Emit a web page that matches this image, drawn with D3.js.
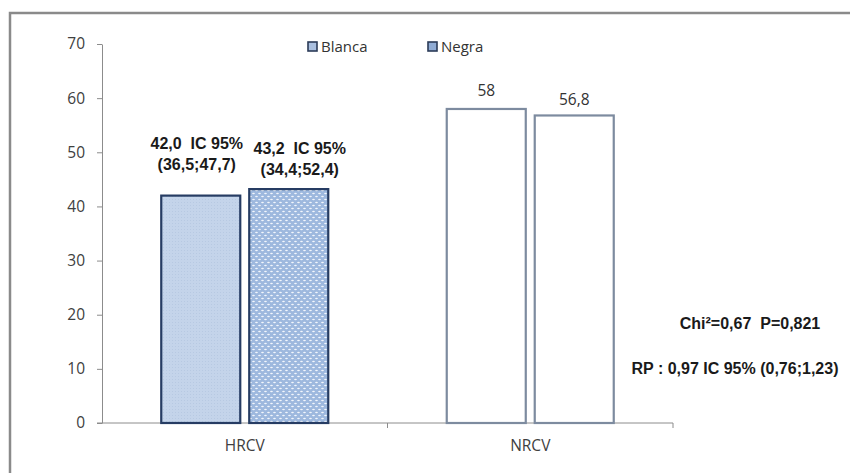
<!DOCTYPE html>
<html>
<head>
<meta charset="utf-8">
<script src="https://cdn.jsdelivr.net/npm/d3@7"></script>
<style>
  html,body{margin:0;padding:0;background:#fff;}
  svg{display:block;}
</style>
</head>
<body>
<div id="chart"></div>
<script>
(function(){
  // data
  const categories=["HRCV","NRCV"];
  const series=["Blanca","Negra"];
  const blanca=[42.0,58];
  const negra=[43.2,56.8];
  const labelsBlanca=[["42,0  IC 95%","(36,5;47,7)"],["58"]];
  const labelsNegra=[["43,2  IC 95%","(34,4;52,4)"],["56,8"]];
  const yTicks=[0,10,20,30,40,50,60,70];
  const notes=["Chi\u00b2=0,67  P=0,821","RP : 0,97 IC 95% (0,76;1,23)"];

  const W=850,H=473;
  const svg=d3.select("#chart").append("svg").attr("width",W).attr("height",H);

  // pattern fills
  const defs=svg.append("defs");
  const pb=defs.append("pattern").attr("id","pBlanca").attr("patternUnits","userSpaceOnUse")
    .attr("width",3).attr("height",3);
  pb.append("rect").attr("width",3).attr("height",3).attr("fill","#c4d4ea");
  pb.append("rect").attr("x",1).attr("y",1).attr("width",1).attr("height",1).attr("fill","#b7c9e2");
  const pn=defs.append("pattern").attr("id","pNegra").attr("patternUnits","userSpaceOnUse")
    .attr("width",6).attr("height",6);
  pn.append("rect").attr("width",6).attr("height",6).attr("fill","#9db8de");
  pn.append("ellipse").attr("cx",1.5).attr("cy",1.5).attr("rx",1.4).attr("ry",0.8).attr("fill","#f2f6fc");
  pn.append("ellipse").attr("cx",4.5).attr("cy",4.5).attr("rx",1.4).attr("ry",0.8).attr("fill","#f2f6fc");

  // outer frame
  svg.append("rect").attr("x",10).attr("y",13).attr("width",W+20).attr("height",H+20)
    .attr("fill","none").attr("stroke","#8a8a8a").attr("stroke-width",2.5);

  const x0=d3.scaleBand().domain(categories).range([102,673]).paddingInner(0).paddingOuter(0);
  const groupW=167;
  const x1=d3.scaleBand().domain(series).range([0,groupW]).paddingInner(0.102);
  const y=d3.scaleLinear().domain([0,70]).range([423,44]);

  // y axis
  const ya=svg.append("g").attr("transform","translate(102,0)")
    .call(d3.axisLeft(y).tickValues(yTicks).tickSize(5).tickSizeOuter(0).tickPadding(12));
  ya.select(".domain").attr("stroke","#8c8c8c");
  ya.selectAll(".tick line").attr("stroke","#8c8c8c");
  ya.selectAll("text").attr("font-family","'Open Sans',sans-serif").attr("font-size",15.5)
    .attr("fill","#404040");

  // x axis with ticks on band edges
  const xa=svg.append("g");
  xa.append("line").attr("x1",x0.range()[0]-5).attr("x2",x0.range()[1]).attr("y1",y(0)).attr("y2",y(0))
    .attr("stroke","#8c8c8c");
  const edges=categories.map(c=>x0(c)+x0.bandwidth()).slice();
  xa.selectAll("line.tk").data(edges).join("line").attr("class","tk")
    .attr("x1",d=>d).attr("x2",d=>d).attr("y1",y(0)).attr("y2",y(0)+5).attr("stroke","#8c8c8c");
  xa.selectAll("text").data(categories).join("text")
    .attr("x",d=>x0(d)+x0.bandwidth()/2).attr("y",y(0)+28).attr("text-anchor","middle")
    .attr("font-family","'Open Sans',sans-serif").attr("font-size",15.5).attr("fill","#404040")
    .text(d=>d);

  // bars
  const rows=categories.map((c,i)=>({c,i,vals:[blanca[i],negra[i]],labs:[labelsBlanca[i],labelsNegra[i]]}));
  const off=(x0.bandwidth()-groupW)/2;
  const fills=[["url(#pBlanca)","url(#pNegra)"],["#ffffff","#ffffff"]];
  const strokes=[["#263c63","#263c63"],["#7d8b9f","#7d8b9f"]];
  rows.forEach(r=>{
    series.forEach((s,j)=>{
      const v=r.vals[j];
      svg.append("rect").attr("x",x0(r.c)+off+x1(s)).attr("y",y(v))
        .attr("width",x1.bandwidth()).attr("height",y(0)-y(v))
        .attr("fill",fills[r.i][j]).attr("stroke",strokes[r.i][j]).attr("stroke-width",2.2);
    });
  });

  // value labels
  const lab=svg.append("g");
  rows.forEach(r=>{
    series.forEach((s,j)=>{
      const cx=x0(r.c)+off+x1(s)+x1.bandwidth()/2;
      const lines=r.labs[j];
      if(lines.length>1){
        const dx=j===0?-4:11;
        const base=j===0?149:154;
        lines.forEach((t,k)=>{
          lab.append("text").attr("x",cx+dx).attr("y",base+k*21).attr("text-anchor","middle")
            .attr("font-family","'Liberation Sans',Arial,sans-serif").attr("font-weight","bold")
            .attr("font-size",16).attr("fill","#1a1a1a").style("white-space","pre").text(t);
        });
      }else{
        lab.append("text").attr("x",cx).attr("y",y(r.vals[j])-(j===0?13:10)).attr("text-anchor","middle")
          .attr("font-family","'Open Sans',sans-serif").attr("font-size",15.5).attr("fill","#333")
          .text(lines[0]);
      }
    });
  });

  // legend
  const lg=svg.append("g");
  const lx=[308,428];
  series.forEach((s,j)=>{
    lg.append("rect").attr("x",lx[j]).attr("y",42).attr("width",9).attr("height",9)
      .attr("fill",j===0?"#a9bfdf":"#8fabd4").attr("stroke","#2b3b58").attr("stroke-width",1.6);
    lg.append("text").attr("x",lx[j]+13).attr("y",52)
      .attr("font-family","'Open Sans',sans-serif").attr("font-size",15).attr("fill","#333").text(s);
  });

  // statistics notes
  svg.append("text").attr("x",750).attr("y",329).attr("text-anchor","middle")
    .attr("font-family","'Liberation Sans',Arial,sans-serif").attr("font-weight","bold")
    .attr("font-size",16).attr("fill","#1a1a1a").style("white-space","pre").text(notes[0]);
  svg.append("text").attr("x",735).attr("y",374).attr("text-anchor","middle")
    .attr("font-family","'Liberation Sans',Arial,sans-serif").attr("font-weight","bold")
    .attr("font-size",16).attr("fill","#1a1a1a").style("white-space","pre").text(notes[1]);
})();
</script>
</body>
</html>
